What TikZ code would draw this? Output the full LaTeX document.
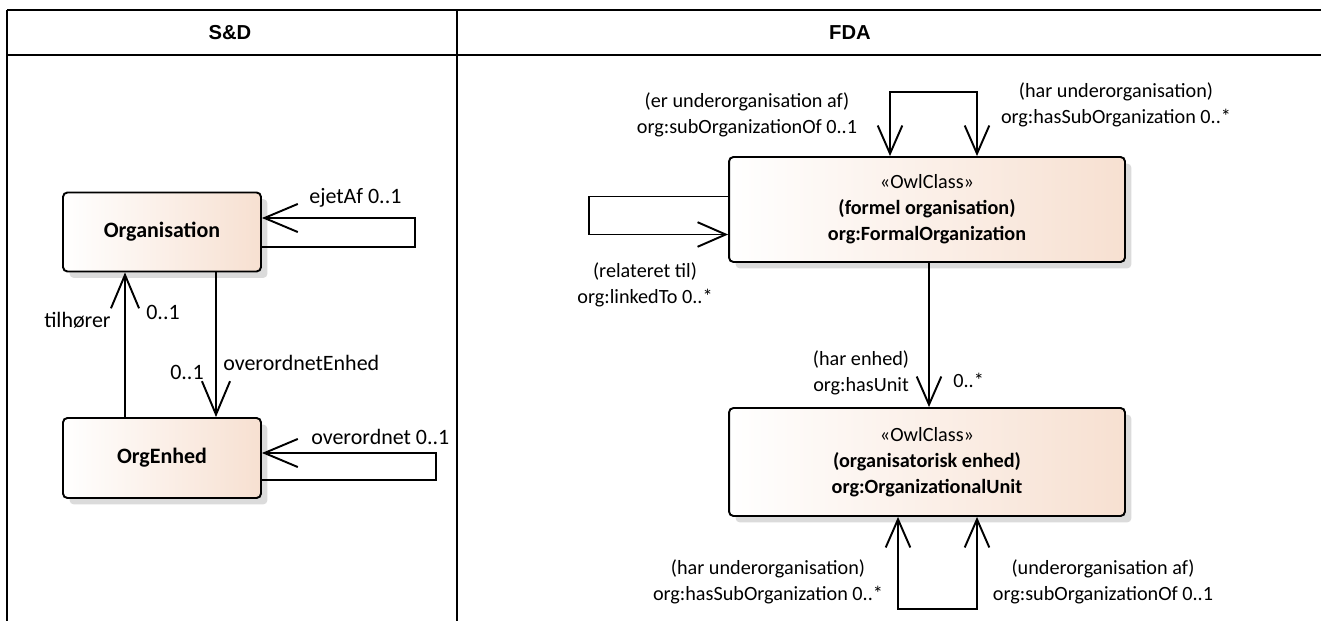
\documentclass[tikz,border=0pt]{standalone}
\usepackage{fontspec}
\setmainfont{Carlito}
\newfontfamily\hdrfont{Liberation Sans}
\usetikzlibrary{arrows.meta,calc,shadows}
\definecolor{peach}{RGB}{247,224,209}
\tikzset{
  tbl/.style={line width=1.3pt},
  classbox/.style={draw,line width=1.1pt,rounded corners=2.5pt,left color=white,right color=peach,
    general shadow={fill=black!14,shadow xshift=0.13cm,shadow yshift=-0.13cm},align=center},
  assoc/.style={line width=1.1pt,-{Straight Barb[length=19pt,width=16pt]}},
  assocsm/.style={line width=1.1pt,-{Straight Barb[length=16pt,width=14pt]}},
  assocboth/.style={line width=1.1pt,{Straight Barb[length=16pt,width=14pt]}-{Straight Barb[length=16pt,width=14pt]}},
  lbl/.style={inner sep=0pt,align=center},
  bigtxt/.style={font=\fontsize{12.5}{15}\selectfont},
  smalltxt/.style={font=\fontsize{11.5}{14.7}\selectfont}
}
\begin{document}
\begin{tikzpicture}[x=0.02cm,y=-0.02cm]
  \useasboundingbox (0,0) rectangle (1321,621);
  \foreach \y in {10,55}
    \draw[tbl] (7,\y) -- (1321,\y);
  \foreach \x in {7,457}
    \draw[tbl] (\x,10) -- (\x,621);
  \node[font=\hdrfont\fontsize{11.5}{14}\selectfont\bfseries] (hdrsd) at (230,33) {S\&D};
  \node[font=\hdrfont\fontsize{11.5}{14}\selectfont\bfseries] (hdrfda) at (850,33) {FDA};

  \node[classbox,bigtxt,minimum width=3.96cm,minimum height=1.58cm] (org) at (162,232) {\textbf{Organisation}};
  \node[classbox,bigtxt,minimum width=3.96cm,minimum height=1.6cm] (enh) at (162,458) {\textbf{OrgEnhed}};
  \draw[assoc] ($(org.east)+(0,15)$) -- ++(153,0) |- ($(org.east)+(0,-14)$);
  \draw[assoc] ($(enh.east)+(0,22)$) -- ++(174,0) |- ($(enh.east)+(0,-5)$);
  \draw[assoc] ($(enh.north)+(-37,0)$) -- ($(org.south)+(-37,0)$);
  \draw[assoc] ($(org.south)+(54,0)$) -- ($(enh.north)+(54,0)$);
  \node[lbl,bigtxt,anchor=west] (ejet) at (309,198) {ejetAf 0..1};
  \node[lbl,bigtxt,anchor=east] (tilh) at (111,320) {tilhører};
  \node[lbl,bigtxt,anchor=west] (tilhm) at (146,312) {0..1};
  \node[lbl,bigtxt,anchor=east] (overm) at (204,372) {0..1};
  \node[lbl,bigtxt,anchor=west] (over) at (223,363) {overordnetEnhed};
  \node[lbl,bigtxt,anchor=west] (overself) at (311,437) {overordnet 0..1};

  \node[classbox,smalltxt,minimum width=7.92cm,minimum height=2.1cm] (fo) at (927,209.5)
    {«OwlClass»\\\textbf{(formel organisation)}\\\textbf{org:FormalOrganization}};
  \node[classbox,smalltxt,minimum width=7.92cm,minimum height=2.16cm] (ou) at (927,462)
    {«OwlClass»\\\textbf{(organisatorisk enhed)}\\\textbf{org:OrganizationalUnit}};
  \draw[assocboth] ($(fo.north)+(-37,0)$) -- ++(0,-64) -| ($(fo.north)+(50,0)$);
  \draw[assocsm] ($(fo.west)+(0,-13)$) -- ++(-139,0) |- ($(fo.west)+(0,25)$);
  \draw[assocsm] ($(fo.south)+(2,0)$) -- ($(ou.north)+(2,0)$);
  \draw[assocboth] ($(ou.south)+(-29,0)$) -- ++(0,92) -| ($(ou.south)+(50,0)$);
  \node[lbl,smalltxt] (subof) at (747,115) {(er underorganisation af)\\org:subOrganizationOf 0..1};
  \node[lbl,smalltxt] (hassub) at (1116,105) {(har underorganisation)\\org:hasSubOrganization 0..*};
  \node[lbl,smalltxt] (linked) at (645,284.5) {(relateret til)\\org:linkedTo 0..*};
  \node[lbl,smalltxt] (hasunit) at (861,373) {(har enhed)\\org:hasUnit};
  \node[lbl,smalltxt,anchor=west] (hasunitm) at (953,380) {0..*};
  \node[lbl,smalltxt] (hassubu) at (768,581.5) {(har underorganisation)\\org:hasSubOrganization 0..*};
  \node[lbl,smalltxt] (subofu) at (1103,581.5) {(underorganisation af)\\org:subOrganizationOf 0..1};
\end{tikzpicture}
\end{document}
